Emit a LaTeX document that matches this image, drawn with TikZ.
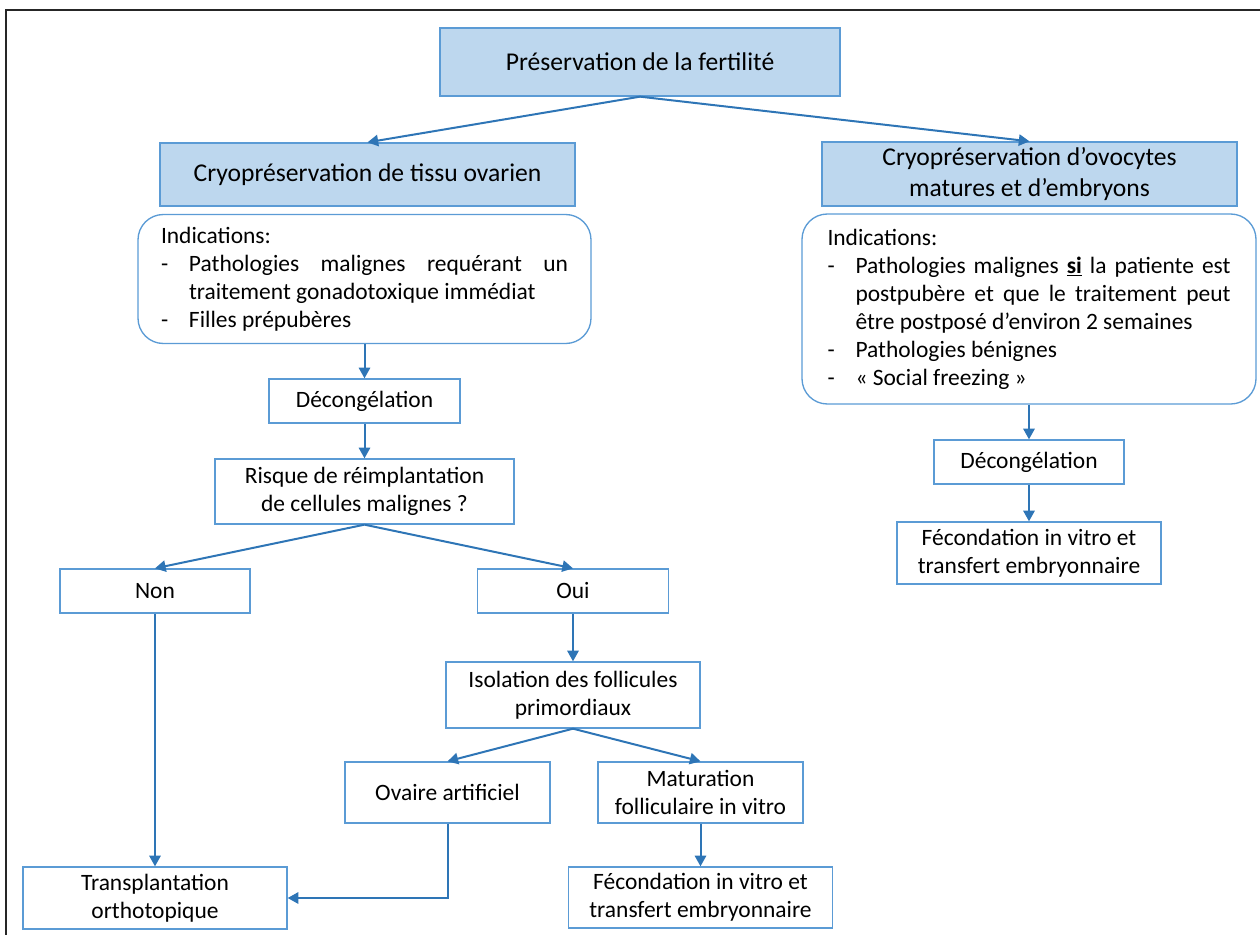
\documentclass[tikz,border=0pt]{standalone}
\usepackage{fontspec}
\setmainfont{Carlito}
\usepackage{tikz}
\usetikzlibrary{arrows.meta}
\definecolor{hdfill}{HTML}{BDD7EE}
\definecolor{boxline}{HTML}{5B9BD5}
\definecolor{arrowblue}{HTML}{2E75B6}
\newcommand{\bodyfont}{\fontsize{17.6}{21}\selectfont}
\newcommand{\headfont}{\fontsize{19.2}{23.2}\selectfont}
\newcommand{\puce}[1]{\par\noindent\hangindent=21pt\hangafter=1\makebox[21pt][l]{-}#1}

\begin{document}
\begin{tikzpicture}[x=0.75pt,y=-0.75pt,>={Triangle[length=8pt,width=8.5pt]},
    head/.style={draw=boxline,line width=1pt,fill=hdfill,align=center,font=\headfont,inner sep=0pt},
    etape/.style={draw=boxline,line width=1pt,fill=white,align=center,font=\bodyfont,inner sep=0pt},
    indic/.style={draw=boxline,line width=1pt,rounded corners=19pt,align=justify,font=\bodyfont,inner xsep=0pt,inner ysep=0pt},
    fleche/.style={->,draw=arrowblue,line width=1.5pt}]
        \useasboundingbox (0,0) rectangle (1260,935);
        \draw[line width=1.3pt,black!85] (6,935) -- (6,10) -- (1260,10);

        % en-tetes
        \node[head,minimum width=300pt,minimum height=51pt] (pres) at (640,62) {Préservation de la fertilité};
        \node[head,minimum width=311.25pt,minimum height=47.25pt] (tissu) at (367.5,174.5) {Cryopréservation de tissu ovarien};
        \node[head,minimum width=311.25pt,minimum height=48pt] (ovo) at (1029.5,174) {Cryopréservation d’ovocytes\\matures et d’embryons};

        % indications
        \node[indic,minimum width=339.75pt,minimum height=96.75pt,text width=305.25pt] (indT) at (364.5,279) {%
            Indications:
            \puce{Pathologies malignes requérant un\linebreak traitement gonadotoxique immédiat}
            \puce{Filles prépubères}};
        \node[indic,minimum width=340.5pt,minimum height=142.5pt,text width=302.25pt] (indO) at (1029,309) {%
            Indications:
            \puce{Pathologies malignes \underline{\textbf{si}} la patiente est postpubère et que le traitement peut être postposé d’environ 2 semaines}
            \puce{Pathologies bénignes}
            \puce{« Social freezing »}};

        % branche tissu ovarien
        \node[etape,minimum width=143.25pt,minimum height=33pt] (decT) at (364.5,401) {Décongélation};
        \node[etape,minimum width=224.25pt,minimum height=48.75pt] (risque) at (364.5,491.5) {Risque de réimplantation\\de cellules malignes ?};
        \node[etape,minimum width=142.5pt,minimum height=33pt] (non) at (155,591) {Non};
        \node[etape,minimum width=143.25pt,minimum height=33pt] (oui) at (573,591) {Oui};
        \node[etape,minimum width=190.5pt,minimum height=49.5pt] (isol) at (573,695) {Isolation des follicules\\primordiaux};
        \node[etape,minimum width=153.75pt,minimum height=45.75pt] (ovaire) at (447.5,792.5) {Ovaire artificiel};
        \node[etape,minimum width=153.75pt,minimum height=45.75pt] (matur) at (700.5,792.5) {Maturation\\folliculaire in vitro};
        \node[etape,minimum width=198pt,minimum height=45.75pt] (fivT) at (700.5,897.5) {Fécondation in vitro et\\transfert embryonnaire};
        \node[etape,minimum width=198pt,minimum height=46.5pt] (transp) at (155,898) {Transplantation\\orthotopique};

        % branche ovocytes
        \node[etape,minimum width=142.5pt,minimum height=33pt] (decO) at (1029,462) {Décongélation};
        \node[etape,minimum width=198pt,minimum height=46.5pt] (fivO) at (1029,553) {Fécondation in vitro et\\transfert embryonnaire};

        \draw[fleche] (pres.south) -- (tissu.north);
        \draw[fleche] (pres.south) -- (ovo.north);
        \draw[fleche] (indT.south) -- (decT.north);
        \draw[fleche] (decT) -- (risque);
        \draw[fleche] (risque.south) -- (non.north);
        \draw[fleche] (risque.south) -- (oui.north);
        \draw[fleche] (non) -- (transp);
        \draw[fleche] (oui) -- (isol);
        \draw[fleche] (isol.south) -- (ovaire.north);
        \draw[fleche] (isol.south) -- (matur.north);
        \draw[fleche] (matur) -- (fivT);
        \draw[fleche] (ovaire.south) |- (transp.east);
        \draw[fleche] (indO.south) -- (decO.north);
        \draw[fleche] (decO) -- (fivO);
    \end{tikzpicture}
\end{document}
